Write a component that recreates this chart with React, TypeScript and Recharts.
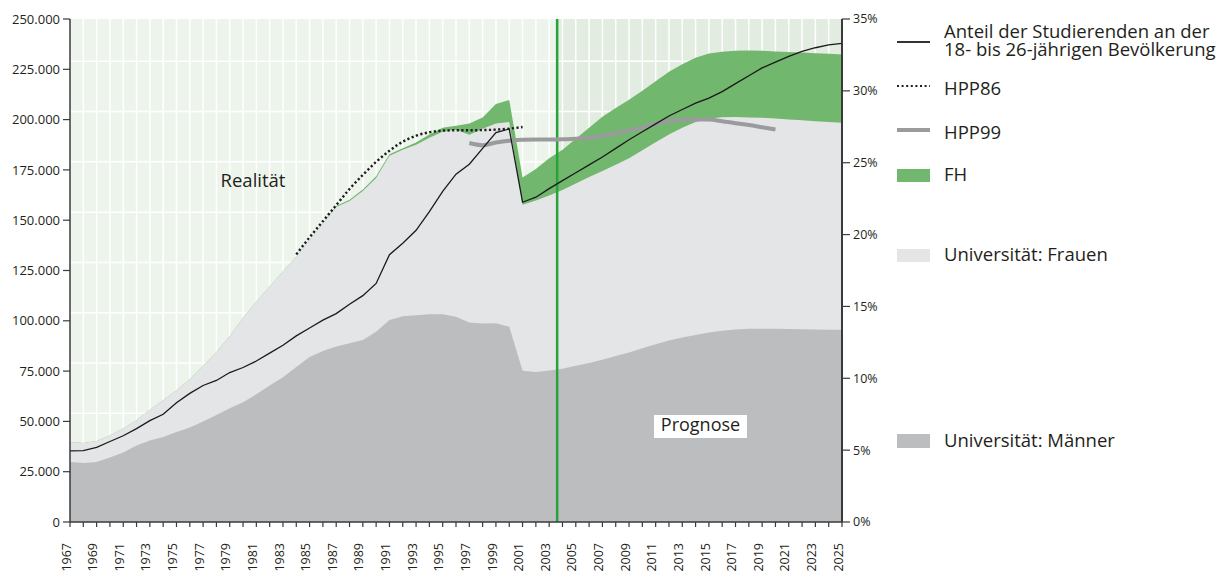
import React from "react";
import {
  ComposedChart,
  Area,
  Line,
  XAxis,
  YAxis,
  CartesianGrid,
  ReferenceArea,
  ReferenceLine,
} from "recharts";

// Jahre 1967 bis 2025
const years = [
  1967, 1968, 1969, 1970, 1971, 1972, 1973, 1974, 1975, 1976, 1977, 1978, 1979, 1980, 1981,
  1982, 1983, 1984, 1985, 1986, 1987, 1988, 1989, 1990, 1991, 1992, 1993, 1994, 1995, 1996,
  1997, 1998, 1999, 2000, 2001, 2002, 2003, 2004, 2005, 2006, 2007, 2008, 2009, 2010, 2011,
  2012, 2013, 2014, 2015, 2016, 2017, 2018, 2019, 2020, 2021, 2022, 2023, 2024, 2025,
];

// Universität: Männer
const maenner = [
  29800, 29300, 29800, 32000, 34500, 38000, 40500, 42200, 44700, 47000, 50000, 53200, 56500,
  59500, 63500, 67800, 72000, 77000, 82000, 85000, 87200, 88800, 90500, 94600, 100400, 102200,
  102800, 103300, 103300, 102000, 99100, 98700, 98800, 97100, 75200, 74600, 75300, 76200,
  77600, 79000, 80700, 82500, 84300, 86300, 88300, 90200, 91700, 93000, 94200, 95100, 95700,
  96000, 96100, 96000, 95900, 95800, 95700, 95600, 95500,
];

// Universität gesamt (Männer + Frauen)
const uniGesamt = [
  39800, 39300, 40300, 43000, 46500, 50600, 55800, 60500, 65500, 71000, 77500, 84500, 92500,
  101500, 109500, 117000, 124500, 132000, 140000, 148500, 156500, 159500, 164500, 171000,
  182000, 185000, 187500, 191000, 194000, 195000, 192500, 195500, 198000, 198800, 157700,
  159800, 162300, 165000, 168300, 171500, 174500, 177500, 180800, 184800, 188800, 192600,
  196000, 198800, 200500, 201200, 201300, 201100, 200900, 200500, 200100, 199700, 199200,
  198800, 198400,
];

// Universität + FH
const mitFH = [
  39800, 39300, 40300, 43000, 46500, 50600, 55800, 60500, 65500, 71000, 77500, 84500, 92500,
  101500, 109500, 117000, 124500, 132000, 140000, 148500, 157000, 160200, 165200, 171800,
  182800, 185800, 188600, 192600, 196000, 197000, 198000, 201000, 207800, 209800, 171200,
  175500, 180800, 185000, 190500, 196000, 201400, 205800, 209900, 214300, 219000, 223800,
  227500, 230700, 232800, 233700, 234200, 234400, 234200, 233900, 233600, 233300, 233000,
  232700, 232400,
];

// Anteil der Studierenden an der 18- bis 26-jährigen Bevölkerung (%)
const anteil = [
  4.95, 4.97, 5.2, 5.6, 6.0, 6.5, 7.05, 7.5, 8.3, 8.95, 9.5, 9.85, 10.4, 10.75, 11.2, 11.75,
  12.3, 12.95, 13.5, 14.05, 14.5, 15.15, 15.75, 16.6, 18.6, 19.4, 20.3, 21.6, 23.0, 24.2, 24.9,
  26.0, 27.1, 27.35, 22.25, 22.6, 23.2, 23.75, 24.3, 24.85, 25.4, 26.0, 26.6, 27.15, 27.7,
  28.25, 28.7, 29.15, 29.5, 29.95, 30.5, 31.05, 31.6, 32.0, 32.4, 32.75, 33.0, 33.2, 33.3,
];

const hpp86Start = 1984;
const hpp86 = [
  133000, 141500, 149500, 157500, 165500, 172500, 179000, 184500, 189000, 192000, 193700,
  194500, 194700, 194700, 194800, 195000, 195500, 196300,
];

const hpp99Start = 1997;
const hpp99 = [
  188400, 187300, 188600, 189500, 190000, 190100, 190100, 190200, 190500, 190800, 191900,
  193200, 194500, 196000, 197800, 199300, 199900, 200100, 200000, 199200, 198200, 197300,
  196200, 195100,
];

const leftTicks = [0, 25000, 50000, 75000, 100000, 125000, 150000, 175000, 200000, 225000, 250000];
const rightTicks = [0, 5, 10, 15, 20, 25, 30, 35];
const gridRows = [4000, 29000, 54000, 79000, 104000, 129000, 154000, 179000, 204000, 229000];
const prognoseStart = 2003.6;

const data = years.map((year, i) => ({
  year,
  maenner: maenner[i],
  uni: uniGesamt[i],
  fh: mitFH[i],
  anteil: anteil[i],
  hpp86:
    year >= hpp86Start && year < hpp86Start + hpp86.length ? hpp86[year - hpp86Start] : null,
  hpp99:
    year >= hpp99Start && year < hpp99Start + hpp99.length ? hpp99[year - hpp99Start] : null,
}));

const TEXT = "#231f20";
const AXIS = "#3a3a3a";

const fmtThousands = (v: number) => String(v).replace(/\B(?=(\d{3})+(?!\d))/g, ".");

function YearTick(props: any) {
  const { x, y, payload } = props;
  if (payload.value % 2 === 0) return <g />;
  const ty = y + 14;
  return (
    <text
      x={x}
      y={ty}
      transform={`rotate(-90 ${x} ${ty})`}
      textAnchor="end"
      fontSize={12.5}
      fill={TEXT}
      dy="0.05em"
    >
      {payload.value}
    </text>
  );
}

const legendText: React.CSSProperties = {
  position: "absolute",
  left: 944,
  fontSize: 18.5,
  lineHeight: "18px",
  color: TEXT,
  whiteSpace: "nowrap",
};

const swatch = (top: number, height: number, color: string): React.CSSProperties => ({
  position: "absolute",
  left: 897,
  width: 33,
  top,
  height,
  background: color,
});

export default function App() {
  return (
    <div
      style={{
        position: "absolute",
        left: 0,
        top: 0,
        width: 1219,
        height: 572,
        background: "#fff",
        fontFamily: "'Open Sans', 'Noto Sans', sans-serif",
        overflow: "hidden",
      }}
    >
      <ComposedChart
        width={1219}
        height={572}
        data={data}
        margin={{ top: 19, right: 337, bottom: 0, left: 8 }}
      >
        <ReferenceArea
          yAxisId="left"
          x1={1967}
          x2={prognoseStart}
          y1={0}
          y2={250000}
          fill="#edf4ec"
          fillOpacity={1}
          stroke="none"
          zIndex={-200}
        />
        <ReferenceArea
          yAxisId="left"
          x1={prognoseStart}
          x2={2025}
          y1={0}
          y2={250000}
          fill="#e2ece0"
          fillOpacity={1}
          stroke="none"
          zIndex={-200}
        />
        <CartesianGrid
          yAxisId="left"
          stroke="#ffffff"
          strokeWidth={1.5}
          horizontalValues={gridRows}
          verticalValues={years}
        />
        <XAxis
          dataKey="year"
          type="number"
          domain={[1967, 2025]}
          ticks={years}
          interval={0}
          tickSize={5}
          height={50}
          tick={<YearTick />}
          axisLine={{ stroke: AXIS, strokeWidth: 1.5 }}
          tickLine={{ stroke: AXIS, strokeWidth: 1.2 }}
        />
        <YAxis
          yAxisId="left"
          domain={[0, 250000]}
          ticks={leftTicks}
          width={62}
          tickSize={7}
          tickMargin={3}
          tickFormatter={fmtThousands}
          tick={{ fontSize: 13, fill: TEXT }}
          axisLine={{ stroke: AXIS, strokeWidth: 1.5 }}
          tickLine={{ stroke: AXIS, strokeWidth: 1.2 }}
        />
        <YAxis
          yAxisId="right"
          orientation="right"
          domain={[0, 35]}
          ticks={rightTicks}
          width={40}
          tickSize={8}
          tickMargin={3}
          tickFormatter={(v: number) => `${v}%`}
          tick={{ fontSize: 12.5, fill: TEXT }}
          axisLine={{ stroke: AXIS, strokeWidth: 2 }}
          tickLine={{ stroke: AXIS, strokeWidth: 1.2 }}
        />
        <Area
          yAxisId="left"
          dataKey="fh"
          type="linear"
          fill="#72b76e"
          fillOpacity={1}
          stroke="none"
          isAnimationActive={false}
        />
        <Area
          yAxisId="left"
          dataKey="uni"
          type="linear"
          fill="#e4e5e7"
          fillOpacity={1}
          stroke="none"
          isAnimationActive={false}
        />
        <Area
          yAxisId="left"
          dataKey="maenner"
          type="linear"
          fill="#bcbdbf"
          fillOpacity={1}
          stroke="none"
          isAnimationActive={false}
        />
        <ReferenceLine
          yAxisId="left"
          x={prognoseStart}
          stroke="#27a33a"
          strokeWidth={2.5}
        />
        <Line
          yAxisId="left"
          dataKey="hpp99"
          type="monotone"
          stroke="#9a9b9d"
          strokeWidth={4}
          dot={false}
          isAnimationActive={false}
        />
        <Line
          yAxisId="left"
          dataKey="hpp86"
          type="monotone"
          stroke="#1e1e1e"
          strokeWidth={2.4}
          strokeDasharray="2.2 2.4"
          dot={false}
          isAnimationActive={false}
        />
        <Line
          yAxisId="right"
          dataKey="anteil"
          type="linear"
          stroke="#1a1a1a"
          strokeWidth={1.3}
          dot={false}
          isAnimationActive={false}
        />
      </ComposedChart>

      {/* Beschriftungen im Diagramm */}
      <div
        style={{
          position: "absolute",
          left: 193,
          width: 120,
          top: 171,
          textAlign: "center",
          fontSize: 18.5,
          lineHeight: "18px",
          color: TEXT,
        }}
      >
        Realität
      </div>
      <div
        style={{
          position: "absolute",
          left: 654,
          width: 93,
          top: 415,
          height: 23,
          background: "#fff",
          textAlign: "center",
          fontSize: 18,
          lineHeight: "19px",
          color: TEXT,
        }}
      >
        Prognose
      </div>

      {/* Legende */}
      <div style={swatch(41, 1.5, "#333")} />
      <div style={{ ...legendText, top: 21.5 }}>
        Anteil der Studierenden an der
        <br />
        18- bis 26-jährigen Bevölkerung
      </div>

      <svg style={{ position: "absolute", left: 897, top: 84 }} width={34} height={4}>
        <line x1={0} y1={2} x2={33} y2={2} stroke="#1e1e1e" strokeWidth={2} strokeDasharray="2 2.6" />
      </svg>
      <div style={{ ...legendText, top: 78.7 }}>HPP86</div>

      <div style={swatch(128, 4, "#9a9b9d")} />
      <div style={{ ...legendText, top: 123.4 }}>HPP99</div>

      <div style={swatch(168.5, 13.5, "#72b76e")} />
      <div style={{ ...legendText, top: 165.4 }}>FH</div>

      <div style={swatch(248.5, 13.5, "#e4e5e7")} />
      <div style={{ ...legendText, top: 245.4 }}>Universität: Frauen</div>

      <div style={swatch(434, 13.5, "#bcbdbf")} />
      <div style={{ ...legendText, top: 431 }}>Universität: Männer</div>
    </div>
  );
}
